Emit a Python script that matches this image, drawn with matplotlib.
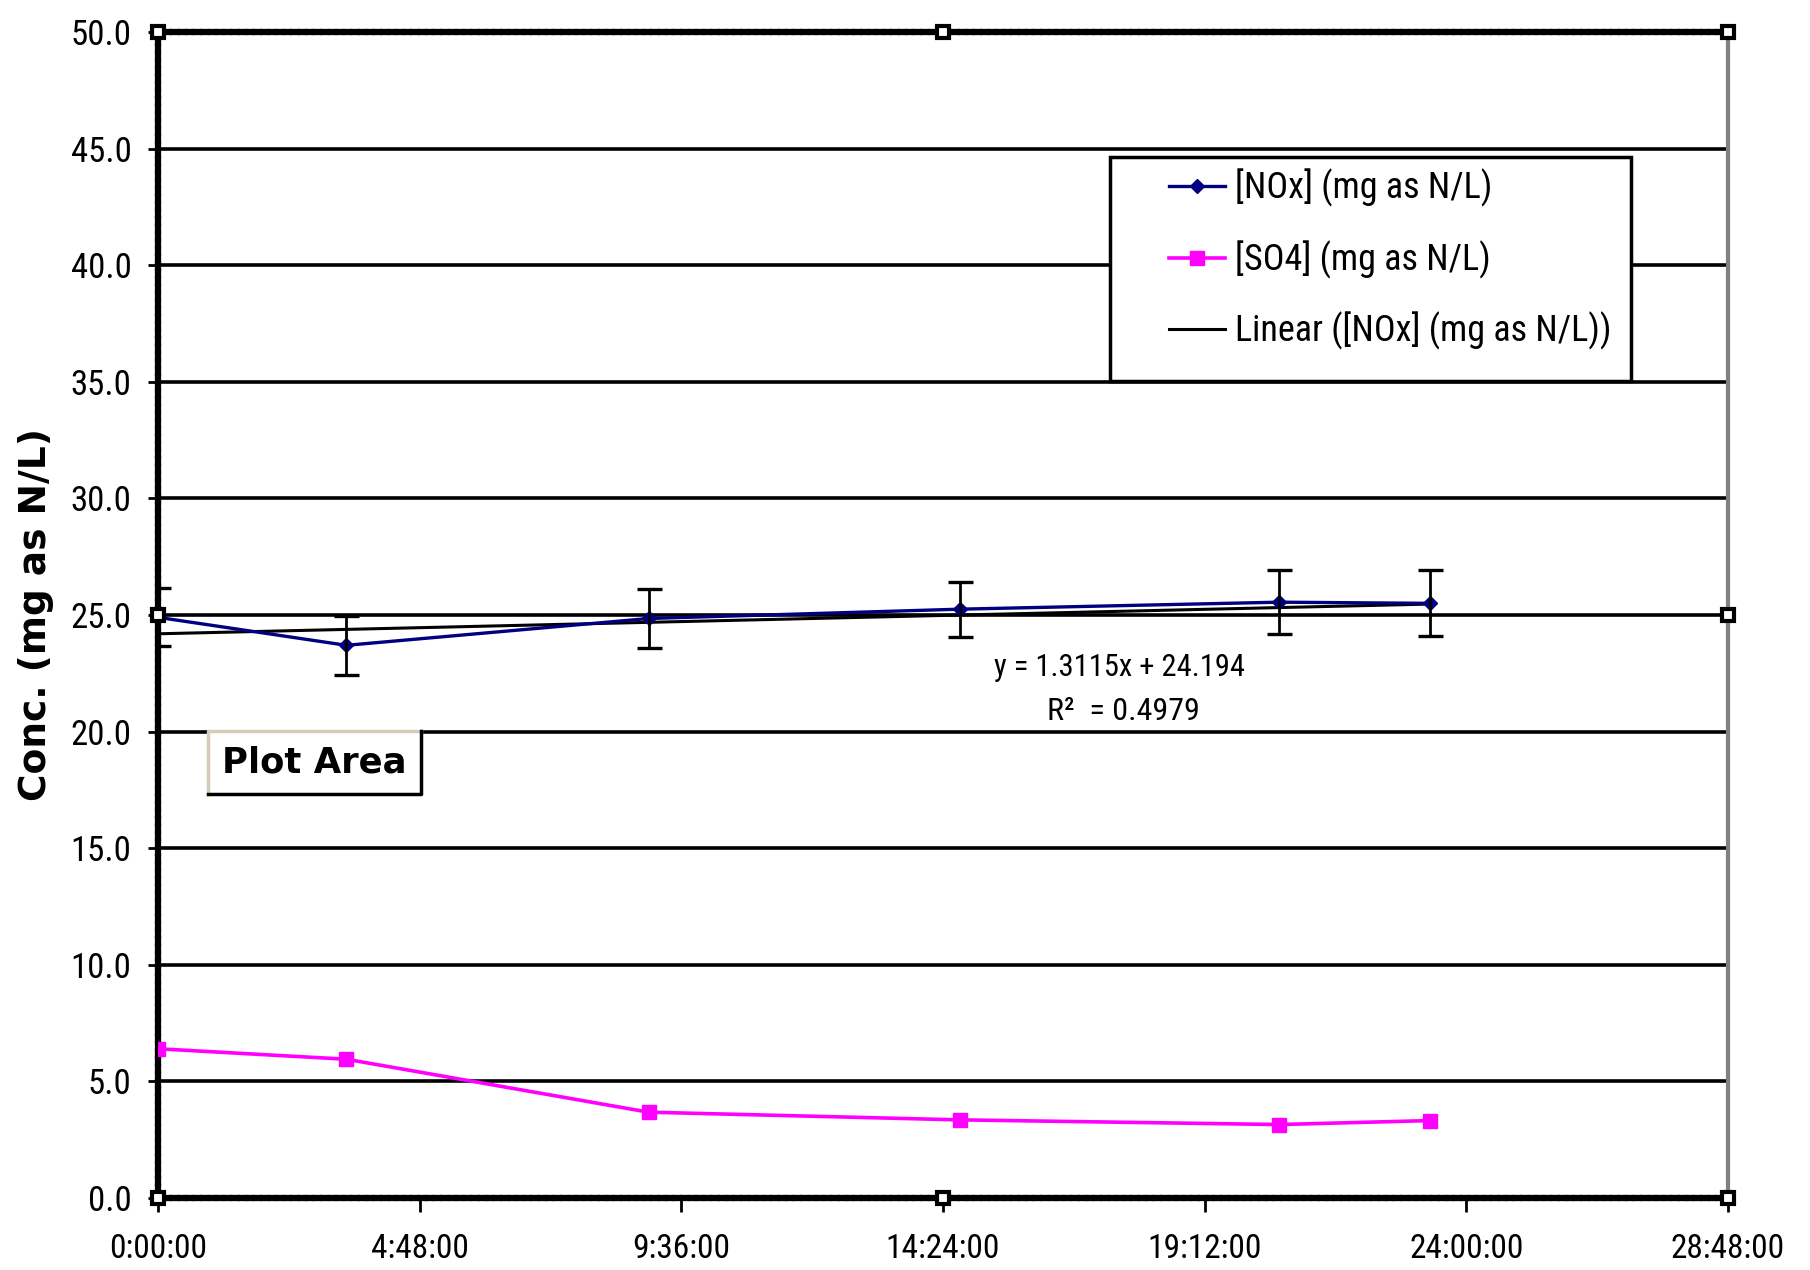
import matplotlib
matplotlib.use("Agg")
import matplotlib.pyplot as plt
import numpy as np
from matplotlib.ticker import FuncFormatter
from matplotlib.patches import Rectangle
from matplotlib.lines import Line2D

# ---------------- data ----------------
time_days = [0.0, 0.144, 0.375, 0.613, 0.857, 0.972]
nox = [24.9, 23.7, 24.85, 25.25, 25.55, 25.5]
nox_err = [1.25, 1.27, 1.25, 1.18, 1.37, 1.42]
so4 = [6.4, 5.95, 3.68, 3.35, 3.15, 3.32]
trend_slope = 1.3115
trend_intercept = 24.194
r_squared = 0.4979
y_ticks = [0, 5, 10, 15, 20, 25, 30, 35, 40, 45, 50]
x_ticks_days = [0.0, 0.2, 0.4, 0.6, 0.8, 1.0, 1.2]
series_labels = ["[NOx] (mg as N/L)", "[SO4] (mg as N/L)", "Linear ([NOx] (mg as N/L))"]
y_label = "Conc. (mg as N/L)"
tooltip = "Plot Area"

plt.rcParams["font.family"] = ["Roboto Condensed", "DejaVu Sans"]
plt.rcParams["font.stretch"] = "condensed"

W, H = 1810, 1270
fig = plt.figure(figsize=(W / 100, H / 100), dpi=100)
fig.patch.set_facecolor("white")
ax_l, ax_r, ax_t, ax_b = 158, 1728, 32, 1198
ax = fig.add_axes([ax_l / W, 1 - ax_b / H, (ax_r - ax_l) / W, (ax_b - ax_t) / H])

ax.set_xlim(x_ticks_days[0], x_ticks_days[-1])
ax.set_ylim(y_ticks[0], y_ticks[-1])

# gridlines
for v in y_ticks[1:-1]:
    ax.axhline(v, color="black", lw=2.6, zorder=1)

# trend line
tx = np.array([min(time_days), max(time_days)])
ax.plot(tx, trend_slope * tx + trend_intercept, color="black", lw=2.2, zorder=3)

# NOx series
ax.plot(time_days, nox, color="#000080", lw=2.4, marker="D", ms=7, mfc="#000080",
        mec="#000080", zorder=4)
ax.errorbar(time_days, nox, yerr=nox_err, fmt="none", ecolor="black", elinewidth=2.0,
            capsize=9, capthick=2.4, zorder=4)

# SO4 series
ax.plot(time_days, so4, color="#FF00FF", lw=2.6, marker="s", ms=10, mfc="#FF00FF",
        mec="#FF00FF", zorder=4)

# trend equation
ax.text(0.735, 22.75, f"y = {trend_slope}x + {trend_intercept}", ha="center", va="center",
        fontsize=22, zorder=6)
ax.text(0.738, 20.85, f"R\u00b2  = {r_squared}", ha="center", va="center", fontsize=23, zorder=6)

# ticks
ax.set_yticks(y_ticks)
ax.set_xticks(x_ticks_days)
ax.yaxis.set_major_formatter(FuncFormatter(lambda v, p: f"{v:.1f}"))


def fmt_time(v, p):
    s = int(round(v * 86400))
    return f"{s // 3600}:{(s % 3600) // 60:02d}:{s % 60:02d}"


ax.xaxis.set_major_formatter(FuncFormatter(fmt_time))
ax.tick_params(axis="y", direction="out", length=7, width=2, pad=12, labelsize=25)
ax.tick_params(axis="x", direction="out", length=10, width=2, pad=15, labelsize=24)

ax.set_ylabel(y_label, fontsize=27, fontweight="bold",
              family=["DejaVu Sans"], fontstretch="normal")
ax.yaxis.set_label_coords(-0.066, 0.5)

# spines (selected plot area look)
for name in ["left", "bottom", "top"]:
    ax.spines[name].set_color("black")
    ax.spines[name].set_linewidth(4.5)
    ax.spines[name].set_linestyle((0, (0.6, 0.6)))
ax.spines["right"].set_color("#808080")
ax.spines["right"].set_linewidth(3)
ax.plot([0, 1], [1, 1], transform=ax.transAxes, color="#808080", lw=1.5, zorder=0, clip_on=False)

# selection handles
hx = [0, 0.5, 1, 0, 1, 0, 0.5, 1]
hy = [0, 0, 0, 0.5, 0.5, 1, 1, 1]
ax.plot(hx, hy, "s", transform=ax.transAxes, clip_on=False, mfc="white", mec="black",
        mew=3, ms=9, zorder=10)

# legend (frame drawn separately)
lx0, lx1 = (1110 - ax_l) / (ax_r - ax_l), (1631 - ax_l) / (ax_r - ax_l)
ly0, ly1 = (ax_b - 381) / (ax_b - ax_t), (ax_b - 157) / (ax_b - ax_t)
ax.add_patch(Rectangle((lx0, ly0), lx1 - lx0, ly1 - ly0, transform=ax.transAxes,
                       facecolor="white", edgecolor="black", lw=2.5, zorder=5))
handles = [
    Line2D([], [], color="#000080", lw=2.4, marker="D", ms=7),
    Line2D([], [], color="#FF00FF", lw=2.6, marker="s", ms=10),
    Line2D([], [], color="black", lw=2.2),
]
leg = ax.legend(handles, series_labels, loc="upper left",
                bbox_to_anchor=((1169 - ax_l) / (ax_r - ax_l), (ax_b - 169) / (ax_b - ax_t)),
                frameon=False, fontsize=26, borderpad=0, borderaxespad=0,
                handlelength=1.55, handletextpad=0.27, labelspacing=0.92)
leg.set_zorder(6)

# "Plot Area" tooltip
bx0, bx1, by0, by1 = 208 / W, 421 / W, 1 - 794 / H, 1 - 731 / H
fig.add_artist(Rectangle((bx0, by0), bx1 - bx0, by1 - by0, transform=fig.transFigure,
                         facecolor="white", edgecolor="none", zorder=20))
fig.add_artist(Line2D([bx0, bx0, bx1], [by0, by1, by1], transform=fig.transFigure,
                      color="#D4CCB8", lw=2.5, zorder=21))
fig.add_artist(Line2D([bx0, bx1, bx1], [by0, by0, by1], transform=fig.transFigure,
                      color="black", lw=2.5, zorder=21))
fig.text((bx0 + bx1) / 2, (by0 + by1) / 2, tooltip, ha="center", va="center",
         fontsize=25.5, fontweight="bold", family=["DejaVu Sans"], fontstretch="normal",
         zorder=22)

fig.savefig("out.png", dpi=100)
